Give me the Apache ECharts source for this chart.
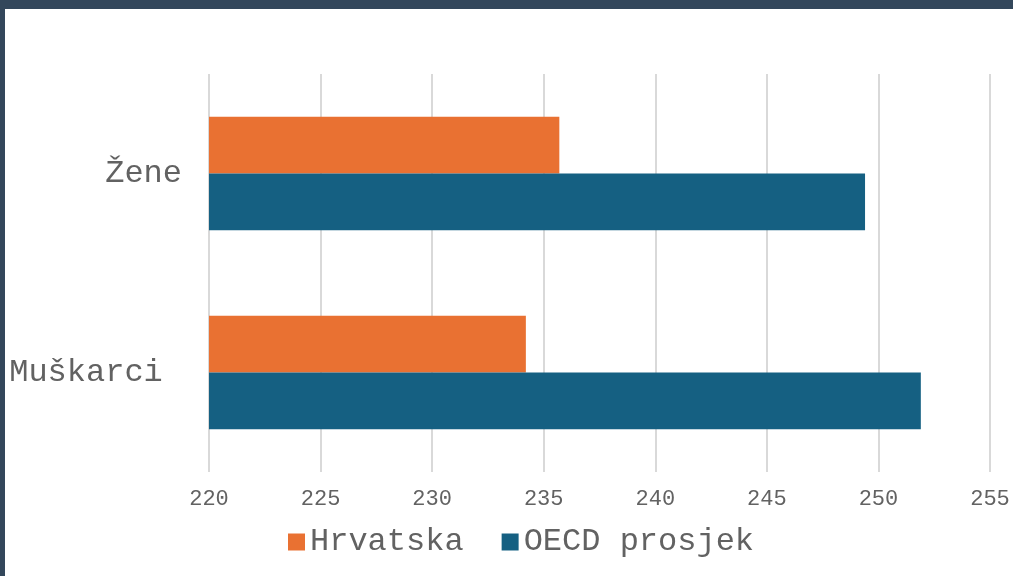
<!DOCTYPE html>
<html>
<head>
<meta charset="utf-8">
<script src="https://cdn.jsdelivr.net/npm/echarts@6/dist/echarts.min.js"></script>
<style>
  html, body { margin: 0; padding: 0; background: #fff; }
  #wrap { width: 1008px; height: 567px; border-top: 9px solid #33475b; border-left: 5px solid #33475b; }
  #chart { width: 1008px; height: 567px; }
</style>
</head>
<body>
<div id="wrap"><div id="chart"></div></div>
<script>
// kategorije odozgo prema dolje
var categories = ['Žene', 'Muškarci '];
var hrvatska = [235.7, 234.2];
var oecd = [249.4, 251.9];
var xTicks = { min: 220, max: 255, step: 5 };

var mono = '"Liberation Mono", "Courier New", monospace';
var chart = echarts.init(document.getElementById('chart'));
var option = {
  backgroundColor: '#fff',
  animation: false,
  grid: { left: 204, right: 23, top: 65, bottom: 104 },
  legend: {
    data: ['Hrvatska', 'OECD prosjek'],
    left: 278,
    top: 512,
    itemWidth: 17,
    itemHeight: 17,
    itemGap: 38,
    icon: 'rect',
    textStyle: { fontFamily: mono, fontSize: 32, color: '#626262' }
  },
  xAxis: {
    type: 'value',
    min: xTicks.min,
    max: xTicks.max,
    interval: xTicks.step,
    axisLine: { show: false },
    axisTick: { show: false },
    splitLine: { lineStyle: { color: '#d9d9d9', width: 2 } },
    axisLabel: { fontFamily: mono, fontSize: 22, color: '#626262', margin: 16 }
  },
  yAxis: {
    type: 'category',
    inverse: true,
    data: categories,
    axisLine: { show: false },
    axisTick: { show: false },
    axisLabel: { fontFamily: mono, fontSize: 32, color: '#626262', margin: 27 }
  },
  series: [
    {
      name: 'Hrvatska',
      type: 'bar',
      data: hrvatska,
      itemStyle: { color: '#E97132' },
      barGap: '0%',
      barCategoryGap: '43%'
    },
    {
      name: 'OECD prosjek',
      type: 'bar',
      data: oecd,
      itemStyle: { color: '#156082' },
      barGap: '0%',
      barCategoryGap: '43%'
    }
  ]
};
chart.setOption(option);
</script>
</body>
</html>
